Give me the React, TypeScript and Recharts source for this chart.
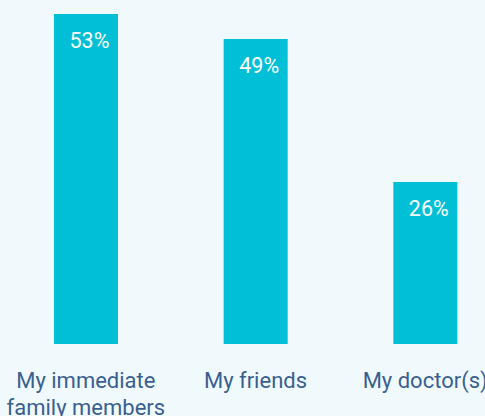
import { BarChart, Bar, XAxis, YAxis, LabelList } from "recharts";

const categories = ["My immediate\nfamily members", "My friends", "My doctor(s)"];
const shares = [53, 49, 26];

const data = categories.map((name, i) => ({ name, share: shares[i] }));

const BAR = "#00bfd6";
const INK = "#3a5f8f";
const FONT = "Roboto, 'Open Sans', sans-serif";

function CategoryTick(props: any) {
  const { x, y, payload } = props;
  const lines = String(payload.value).split("\n");
  return (
    <text x={x} y={y + 36} textAnchor="middle" fill={INK} fontSize={22} fontFamily={FONT}>
      {lines.map((line, i) => (
        <tspan key={i} x={x} dy={i === 0 ? 0 : 27}>
          {line}
        </tspan>
      ))}
    </text>
  );
}

function ValueLabel(props: any) {
  const { x, y, width, value } = props;
  return (
    <text
      x={x + width / 2 + 3.5}
      y={y + 34}
      textAnchor="middle"
      fill="#ffffff"
      fontSize={21.5}
      fontFamily={FONT}
    >
      {value}%
    </text>
  );
}

export default function App() {
  return (
    <div
      style={{
        position: "fixed",
        left: 0,
        top: 0,
        width: 485,
        height: 416,
        overflow: "hidden",
        background: "#f0fafd",
      }}
    >
      <BarChart
        width={510}
        height={416}
        data={data}
        margin={{ top: 14, right: 0, bottom: 12, left: 1 }}
      >
        <XAxis
          dataKey="name"
          axisLine={false}
          tickLine={false}
          height={60}
          interval={0}
          tick={<CategoryTick />}
        />
        <YAxis hide domain={[0, 53]} />
        <Bar dataKey="share" fill={BAR} barSize={64} isAnimationActive={false}>
          <LabelList dataKey="share" content={<ValueLabel />} />
        </Bar>
      </BarChart>
    </div>
  );
}
